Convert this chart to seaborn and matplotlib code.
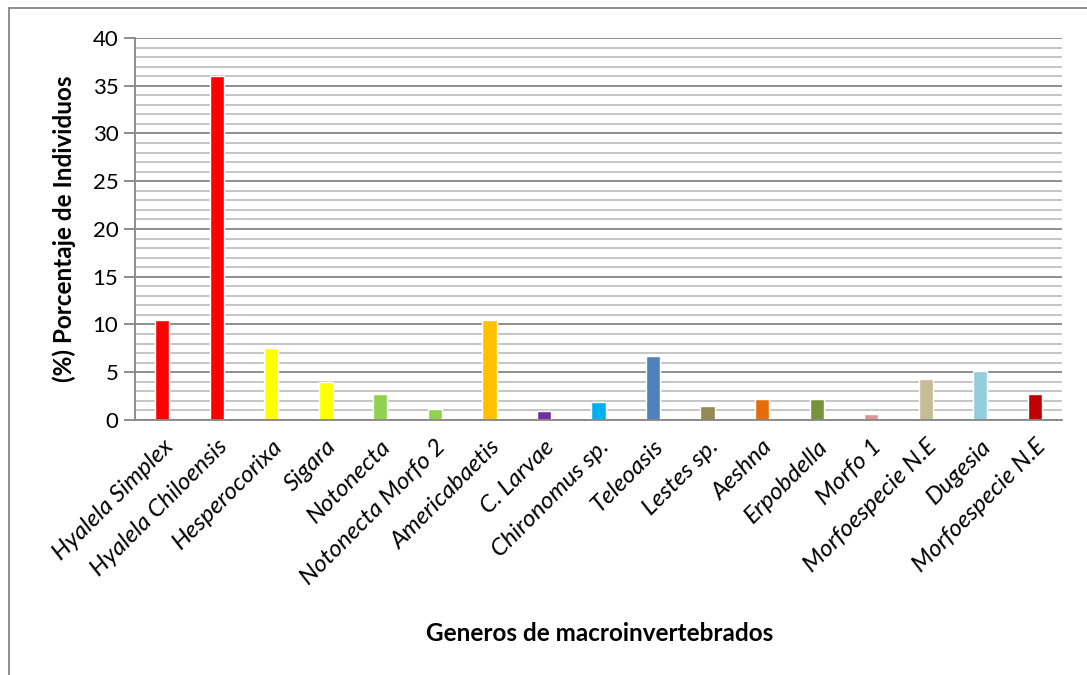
import matplotlib
matplotlib.use("Agg")
import matplotlib.pyplot as plt
import seaborn as sns
import pandas as pd
from matplotlib.lines import Line2D
from matplotlib.ticker import MultipleLocator

# data
generos = ["Hyalela Simplex", "Hyalela Chiloensis", "Hesperocorixa", "Sigara",
           "Notonecta", "Notonecta Morfo 2", "Americabaetis", "C. Larvae",
           "Chironomus sp.", "Teleoasis", "Lestes sp.", "Aeshna", "Erpobdella",
           "Morfo 1", "Morfoespecie N.E", "Dugesia", "Morfoespecie N.E"]
porcentaje = [10.5, 36.0, 7.5, 4.0, 2.7, 1.2, 10.5, 0.9,
              1.9, 6.7, 1.5, 2.2, 2.2, 0.6, 4.3, 5.1, 2.7]
colores = ["#FF0000", "#FF0000", "#FFFF00", "#FFFF00", "#92D050", "#92D050",
           "#FFC000", "#7030A0", "#00B0F0", "#4F81BD", "#948A54", "#E46C0A",
           "#77933C", "#D99694", "#C4BD97", "#93CDDD", "#C00000"]

df = pd.DataFrame({"idx": range(len(generos)), "pct": porcentaje})

sns.set_style("white")
plt.rcParams['font.family'] = ['Lato', 'DejaVu Sans']
plt.rcParams['text.color'] = 'black'
plt.rcParams['axes.labelcolor'] = 'black'

fig = plt.figure(figsize=(10.87, 6.75), dpi=100)
ax = fig.add_axes([0.1242, 0.3778, 0.977 - 0.1242, 0.9437 - 0.3778])

sns.barplot(data=df, x="idx", y="pct", hue="idx", palette=colores,
            legend=False, width=0.26, saturation=1, ax=ax)

ax.set_ylim(0, 40)
ax.set_xlim(-0.5, len(generos) - 0.5)
ax.yaxis.set_major_locator(MultipleLocator(5))
ax.yaxis.set_minor_locator(MultipleLocator(1))
ax.grid(which="minor", axis="y", color="#C0C0C0", linewidth=1.3)
ax.grid(which="major", axis="y", color="#868686", linewidth=1.3)
ax.set_axisbelow(True)

for s in ["top", "right"]:
    ax.spines[s].set_visible(False)
ax.spines["left"].set_color("#868686")
ax.spines["bottom"].set_color("#868686")
ax.spines["left"].set_linewidth(1.3)
ax.spines["bottom"].set_linewidth(1.3)

ax.tick_params(axis="y", which="major", left=True, length=8, width=1.3,
               color="#868686", labelcolor="black", labelsize=16, pad=4)
ax.tick_params(axis="y", which="minor", left=False)
ax.tick_params(axis="x", bottom=False, pad=8, labelcolor="black")
ax.set_xticks(range(len(generos)))
ax.set_xticklabels(generos, rotation=45, ha="right", rotation_mode="anchor",
                   fontstyle="italic", fontsize=17.5)

ax.set_ylabel("(%) Porcentaje de Individuos", fontsize=17.5, fontweight="bold",
              labelpad=12)
ax.set_xlabel("")
fig.text(0.552, 0.062, "Generos de macroinvertebrados", fontsize=17.5,
         fontweight="bold", ha="center", va="center")

# outer chart border (top and left visible)
fig.add_artist(Line2D([0.0083, 1.0], [1 - 8 / 675, 1 - 8 / 675],
                      color="#868686", linewidth=1.3))
fig.add_artist(Line2D([9 / 1087, 9 / 1087], [0, 1 - 8 / 675],
                      color="#868686", linewidth=1.3))

fig.savefig("out.png", dpi=100)
